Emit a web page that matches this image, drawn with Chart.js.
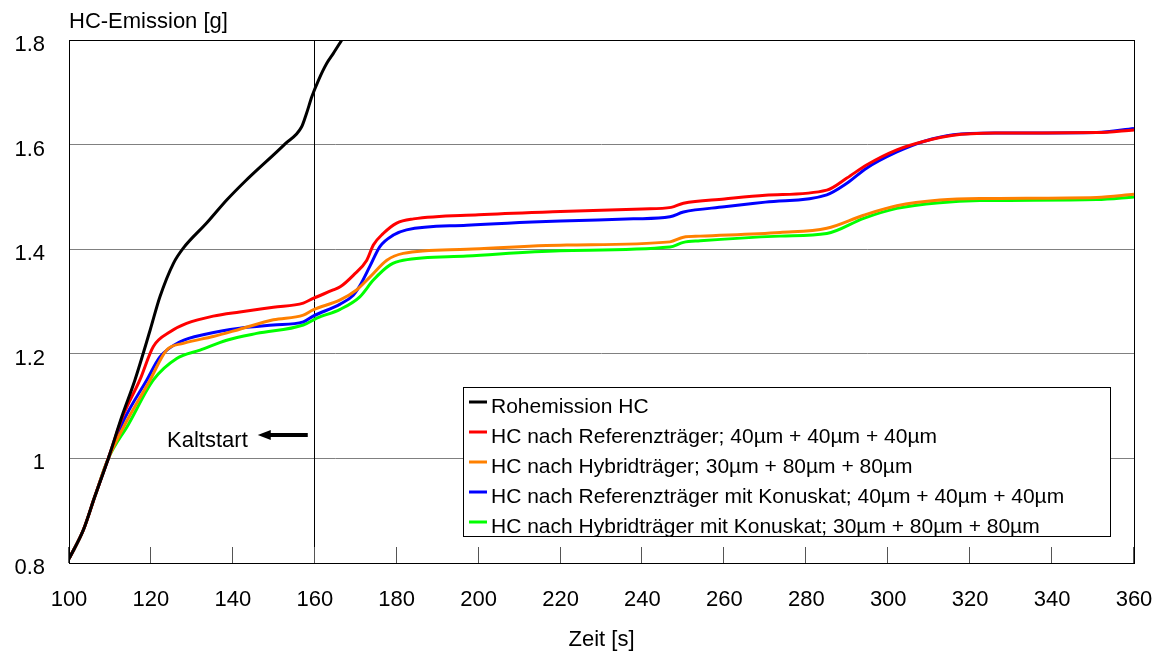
<!DOCTYPE html>
<html>
<head>
<meta charset="utf-8">
<script src="https://cdn.jsdelivr.net/npm/chart.js@4"></script>
<style>
    html, body { margin: 0; padding: 0; background: #fff; }
    canvas { display: block; }
</style>
</head>
<body>
<canvas id="hcChart" width="1157" height="652"></canvas>
<script>
// time axis [s] and cumulative HC emission [g] per measurement
const rohZeit = [100, 103.5, 106.3, 109.6, 112.9, 116.1, 119.8, 122.2, 125.5, 127.9, 133.6, 138.5, 143.0, 152.7, 156.8, 158.0, 159.3, 160.9, 162.9, 164.5, 166.6];
const rohHC   = [0.808, 0.863, 0.927, 1.0, 1.080, 1.150, 1.245, 1.309, 1.373, 1.402, 1.450, 1.494, 1.530, 1.601, 1.634, 1.660, 1.692, 1.723, 1.755, 1.774, 1.800];

const refZeit = [100, 103.5, 106.3, 109.6, 113, 117.3, 120.6, 124.7, 128.7, 135.2, 141.7, 149.9, 157.2, 159.6, 164.5, 166.2, 169.4, 172.7, 174.3, 176.7, 180.0, 184.1, 200, 220, 240, 247, 250, 260, 270, 285.0, 289.9, 294.7, 302.1, 308.6, 315.9, 326.5, 350.9, 360];
const refHC   = [0.808, 0.863, 0.927, 1.0, 1.078, 1.150, 1.214, 1.242, 1.258, 1.272, 1.280, 1.289, 1.297, 1.306, 1.322, 1.328, 1.350, 1.379, 1.408, 1.430, 1.450, 1.458, 1.466, 1.472, 1.477, 1.480, 1.488, 1.496, 1.503, 1.513, 1.536, 1.561, 1.590, 1.606, 1.618, 1.622, 1.623, 1.628];

const hybZeit = [100, 103.5, 106.3, 109.6, 114, 119.8, 123.8, 127.9, 135.2, 141.7, 149.9, 157.2, 159.6, 166.2, 170.2, 173.5, 177.6, 181.6, 197.1, 221.5, 246.7, 250, 254.1, 273.6, 285.0, 294.0, 302.1, 312.6, 322.4, 350.9, 360];
const hybHC   = [0.808, 0.863, 0.927, 1.0, 1.070, 1.150, 1.207, 1.220, 1.233, 1.247, 1.265, 1.274, 1.284, 1.303, 1.322, 1.347, 1.379, 1.392, 1.400, 1.408, 1.414, 1.423, 1.425, 1.432, 1.440, 1.465, 1.483, 1.494, 1.497, 1.499, 1.505];

const refKonZeit = [100, 103.5, 106.3, 109.6, 113.5, 119.0, 122.2, 127.1, 133.6, 141.7, 149.9, 157.2, 159.6, 166.2, 169.4, 171, 173.5, 175.9, 179.2, 182.4, 197.1, 220, 237.8, 246.7, 250, 260, 270, 285.0, 289.9, 294.7, 302.1, 308.6, 315.9, 326.5, 350.9, 360];
const refKonHC   = [0.808, 0.863, 0.927, 1.0, 1.075, 1.150, 1.194, 1.223, 1.238, 1.249, 1.255, 1.261, 1.272, 1.295, 1.312, 1.330, 1.368, 1.405, 1.427, 1.437, 1.446, 1.454, 1.458, 1.462, 1.471, 1.481, 1.490, 1.504, 1.526, 1.555, 1.586, 1.606, 1.619, 1.622, 1.623, 1.631];

const hybKonZeit = [100, 103.5, 106.3, 109.6, 114.5, 120.6, 126.3, 132.0, 138.5, 145.8, 157.2, 160.5, 166.2, 171.0, 174.3, 178.4, 181.6, 197.1, 219.9, 246.7, 250, 254.1, 273.6, 285.0, 294.0, 302.1, 312.6, 322.4, 350.9, 360];
const hybKonHC   = [0.808, 0.863, 0.927, 1.0, 1.065, 1.150, 1.191, 1.207, 1.226, 1.239, 1.255, 1.268, 1.285, 1.309, 1.341, 1.370, 1.379, 1.387, 1.397, 1.404, 1.413, 1.416, 1.425, 1.430, 1.459, 1.478, 1.489, 1.493, 1.495, 1.500];

const seriesLabels = [
    'Rohemission HC',
    'HC nach Referenzträger; 40µm + 40µm + 40µm',
    'HC nach Hybridträger; 30µm + 80µm + 80µm',
    'HC nach Referenzträger mit Konuskat; 40µm + 40µm + 40µm',
    'HC nach Hybridträger mit Konuskat; 30µm + 80µm + 80µm'
];
const seriesColors = ['#000000', '#ff0000', '#ff8000', '#0000ff', '#00ff00'];

const FONT = 'Arial, "Liberation Sans", sans-serif';

function toPoints(xs, ys) {
    return xs.map((x, i) => ({ x: x, y: ys[i] }));
}

const allSeries = [
    toPoints(rohZeit, rohHC),
    toPoints(refZeit, refHC),
    toPoints(hybZeit, hybHC),
    toPoints(refKonZeit, refKonHC),
    toPoints(hybKonZeit, hybKonHC)
];

// frame, cold start marker, inward ticks, legend box and axis titles
const decorPlugin = {
    id: 'decor',
    beforeDatasetsDraw(chart) {
        const ctx = chart.ctx, a = chart.chartArea, xs = chart.scales.x;
        ctx.save();
        const x160 = Math.round(xs.getPixelForValue(160)) - 0.5;
        ctx.strokeStyle = '#000';
        ctx.lineWidth = 1;
        ctx.beginPath();
        ctx.moveTo(x160, a.top);
        ctx.lineTo(x160, a.bottom);
        ctx.stroke();

        ctx.strokeStyle = '#555';
        xs.ticks.forEach(t => {
            const px = Math.round(xs.getPixelForValue(t.value)) - 0.5;
            ctx.beginPath();
            ctx.moveTo(px, a.bottom);
            ctx.lineTo(px, a.bottom - 16);
            ctx.stroke();
        });
        ctx.restore();
    },
    afterDraw(chart) {
        const ctx = chart.ctx, a = chart.chartArea, xs = chart.scales.x;
        ctx.save();
        // plot frame
        ctx.strokeStyle = '#000';
        ctx.lineWidth = 1;
        ctx.strokeRect(Math.round(a.left) + 0.5, Math.round(a.top) + 0.5,
                       Math.round(a.right - a.left), Math.round(a.bottom - a.top));

        // axis titles
        ctx.fillStyle = '#000';
        ctx.font = '22px ' + FONT;
        ctx.textBaseline = 'middle';
        ctx.textAlign = 'left';
        ctx.fillText('HC-Emission [g]', a.left, 22);
        ctx.textAlign = 'center';
        ctx.fillText('Zeit [s]', (a.left + a.right) / 2, 640);

        // Kaltstart arrow, left of the 160 s line
        const x160 = xs.getPixelForValue(160);
        ctx.textAlign = 'right';
        ctx.fillText('Kaltstart', x160 - 67, 441);
        ctx.lineWidth = 4;
        ctx.beginPath();
        ctx.moveTo(x160 - 7, 435);
        ctx.lineTo(x160 - 48, 435);
        ctx.stroke();
        ctx.beginPath();
        ctx.moveTo(x160 - 57, 435);
        ctx.lineTo(x160 - 44, 430);
        ctx.lineTo(x160 - 44, 440);
        ctx.closePath();
        ctx.fill();

        // legend
        const lx = 463, ly = 387, lw = 647, lh = 149;
        ctx.fillStyle = '#fff';
        ctx.fillRect(lx, ly, lw, lh);
        ctx.lineWidth = 1;
        ctx.strokeStyle = '#000';
        ctx.strokeRect(lx + 0.5, ly + 0.5, lw, lh);
        ctx.font = '21px ' + FONT;
        ctx.textAlign = 'left';
        seriesLabels.forEach((label, i) => {
            const cy = 407 + i * 30;
            ctx.strokeStyle = seriesColors[i];
            ctx.lineWidth = 3;
            ctx.beginPath();
            ctx.moveTo(469, cy - 5);
            ctx.lineTo(487, cy - 5);
            ctx.stroke();
            ctx.fillStyle = '#000';
            ctx.fillText(label, 491, cy);
        });
        ctx.restore();
    }
};

const ctx = document.getElementById('hcChart').getContext('2d');
const hcChart = new Chart(ctx, {
    type: 'line',
    data: {
        datasets: allSeries.map((pts, i) => ({
            label: seriesLabels[i],
            data: pts,
            borderColor: seriesColors[i],
            backgroundColor: seriesColors[i],
            borderWidth: 3,
            pointRadius: 0,
            fill: false,
            cubicInterpolationMode: 'monotone'
        }))
    },
    options: {
        responsive: false,
        animation: false,
        devicePixelRatio: 1,
        layout: { padding: { top: 40, right: 23, left: 0, bottom: 0 } },
        plugins: { legend: { display: false }, tooltip: { enabled: false } },
        scales: {
            x: {
                type: 'linear',
                min: 100,
                max: 360,
                grid: { display: false },
                border: { display: false },
                ticks: { stepSize: 20, color: '#000', font: { size: 22, family: FONT }, padding: 16, maxRotation: 0 },
                afterFit(scale) {
                    scale.height = 89;
                    scale.paddingLeft = 0;
                    scale.paddingRight = 0;
                }
            },
            y: {
                min: 0.8,
                max: 1.8,
                grid: { color: '#808080', lineWidth: 1, drawTicks: false },
                border: { display: false },
                ticks: {
                    stepSize: 0.2,
                    color: '#000',
                    font: { size: 22, family: FONT },
                    padding: 24,
                    labelOffset: 5,
                    callback: v => String(Math.round(v * 10) / 10)
                },
                afterFit(scale) { scale.width = 69; }
            }
        }
    },
    plugins: [decorPlugin]
});
</script>
</body>
</html>
